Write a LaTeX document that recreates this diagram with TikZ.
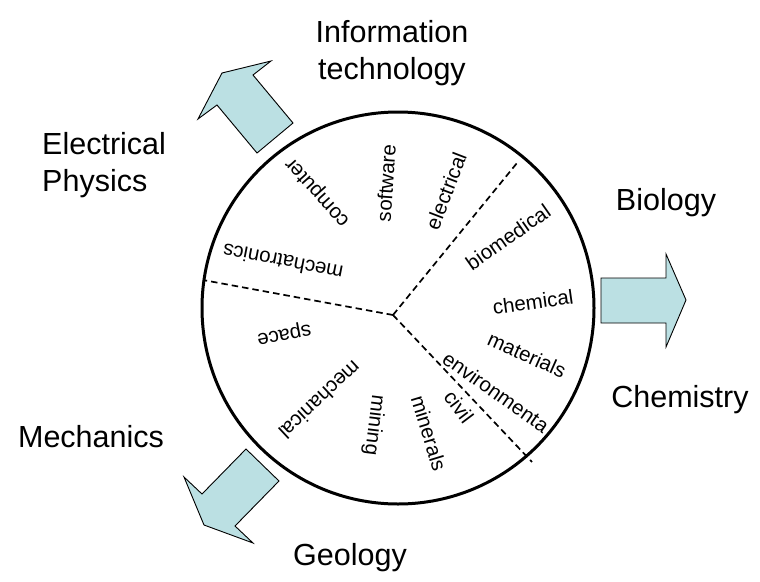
\documentclass[tikz,border=0pt]{standalone}
\usepackage{fontspec}
\setmainfont{Liberation Sans}
\definecolor{arrowfill}{RGB}{187,224,227}
\begin{document}
\begin{tikzpicture}[x=1pt,y=-1pt,
  big/.style={font=\fontsize{30.5}{37}\selectfont, inner sep=0pt, align=left},
  small/.style={font=\fontsize{20.5}{24}\selectfont, inner sep=0pt},
  blockarrow/.style={draw=black, line width=0.9pt, fill=arrowfill, line join=miter},
  divider/.style={line width=1.7pt, dash pattern=on 6.5pt off 4pt}]
\useasboundingbox (0,0) rectangle (760,581);

% block arrows
\draw[blockarrow] (257,153) -- (217,105) -- (198,119) -- (222,73) -- (271,61) -- (253,75) -- (293,123) -- cycle;
\draw[blockarrow] (601,278) -- (666,278) -- (666,254) -- (686,300) -- (666,347) -- (666,323) -- (601,323) -- cycle;
\draw[blockarrow] (246,449) -- (279,481) -- (235,526) -- (253,543) -- (204,525) -- (184,477) -- (202,494) -- cycle;

% wheel
\node[draw, circle, line width=3pt, minimum size=392pt, inner sep=0pt] (wheel) at (398,308) {};

% dividers
\coordinate (hub) at (393,315);
\coordinate (d1) at (203,280);
\coordinate (d2) at (517,163);
\coordinate (d3) at (532,462);
\draw[divider] (hub) -- (d1);
\draw[divider] (hub) -- (d2);
\draw[divider] (hub) -- (d3);

% inner labels
\node[small, rotate=132] (computer) at (318,192) {computer};
\node[small, rotate=86] (software) at (386,183) {software};
\node[small, rotate=69] (electrical) at (446,191) {electrical};
\node[small, rotate=35] (biomedical) at (508,237) {biomedical};
\node[small, rotate=8] (chemical) at (533,302) {chemical};
\node[small, rotate=-24] (materials) at (527,355) {materials};
\node[small, rotate=-35] (environmenta) at (496,392) {environmenta};
\node[small, rotate=-53] (civil) at (459,407) {civil};
\node[small, rotate=-73] (minerals) at (429,433) {minerals};
\node[small, rotate=263] (mining) at (374,425) {mining};
\node[small, rotate=223] (mechanical) at (320,400) {mechanical};
\node[small, rotate=191] (space) at (284,333) {space};
\node[small, rotate=169] (mechatronics) at (283,262) {mechatronics};

% outer labels
\node[big, align=center] (it) at (392,53) {Information\\technology};
\node[big, anchor=west] (ep) at (42,165) {Electrical\\Physics};
\node[big] (bio) at (666,203) {Biology};
\node[big] (chem) at (680,400) {Chemistry};
\node[big] (mech) at (91,437) {Mechanics};
\node[big] (geo) at (350,558) {Geology};
\end{tikzpicture}
\end{document}
